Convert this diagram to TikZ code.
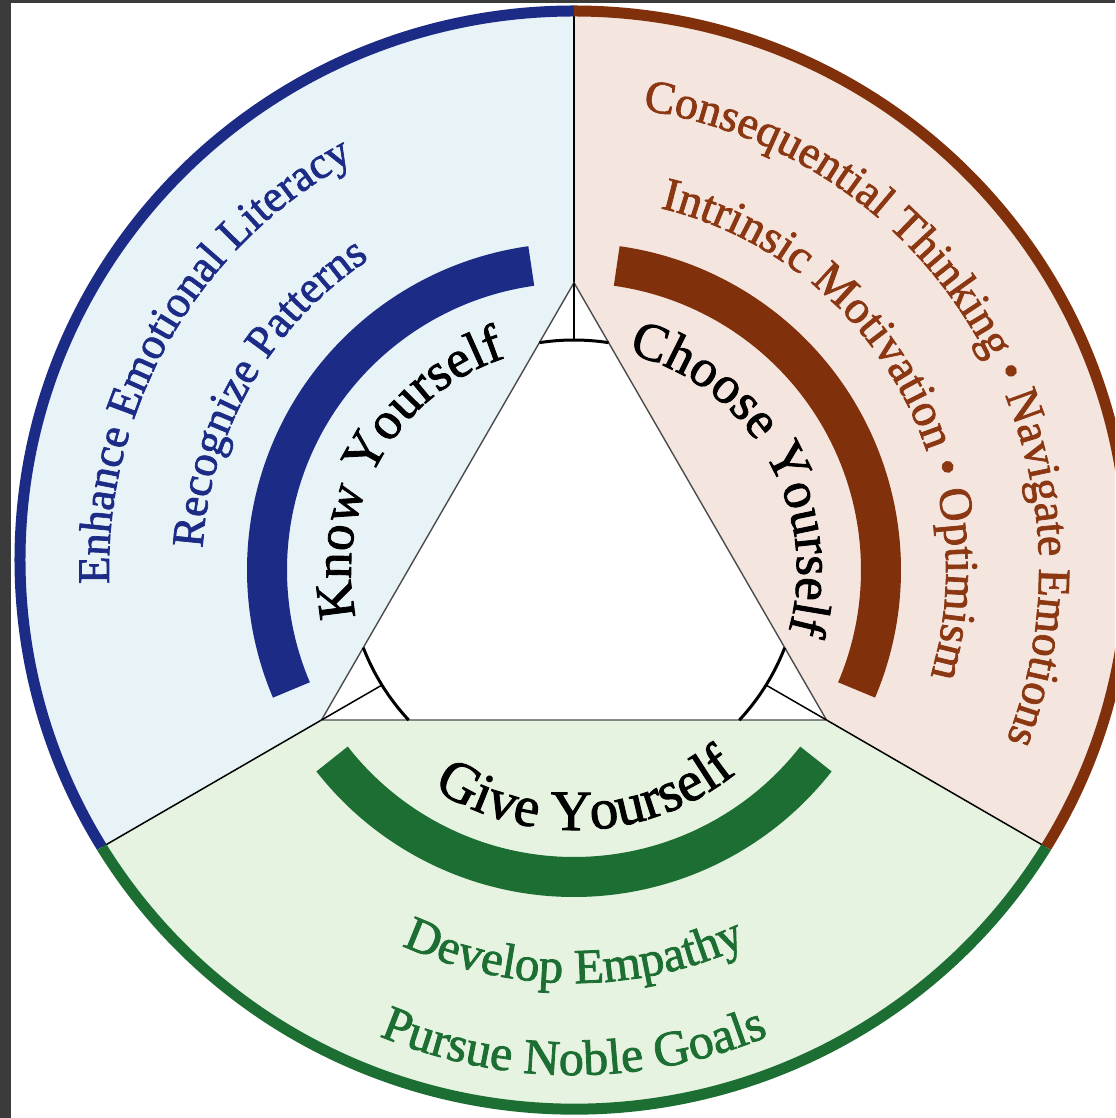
\documentclass[tikz,border=0pt]{standalone}
\usepackage{fontspec}
\setmainfont{Liberation Serif}[FakeBold=1.6]
\usetikzlibrary{decorations.text}
\definecolor{navy}{HTML}{1C2C86}
\definecolor{rust}{HTML}{80300A}
\definecolor{rusttext}{HTML}{8A3712}
\definecolor{forest}{HTML}{1C6E32}
\definecolor{bluefill}{HTML}{E8F3F8}
\definecolor{rustfill}{HTML}{F5E5DF}
\definecolor{greenfill}{HTML}{E5F3E0}
\definecolor{framegray}{HTML}{3B3B3B}
\newcommand\fsTitle{\fontsize{26.5}{30}\selectfont}
\newcommand\fsGive{\fontsize{28.5}{32}\selectfont}
\newcommand\fsBlue{\fontsize{22.5}{27}\selectfont}
\newcommand\fsRustA{\fontsize{23}{27}\selectfont}
\newcommand\fsRustB{\fontsize{23.5}{27}\selectfont}
\newcommand\fsGreenA{\fontsize{24.5}{28}\selectfont}
\newcommand\fsGreenB{\fontsize{25}{29}\selectfont}
\tikzset{
  band/.style={line width=20pt},
  rim/.style={line width=5.5pt},
  thinline/.style={line width=0.75pt, draw=black},
  triside/.style={line width=0.7pt, draw=black!70},
  cornerarc/.style={line width=1.5pt, draw=black},
  ctext/.style={decorate, decoration={text along path, text align=center, text color=#1}},
}
\begin{document}
\begin{tikzpicture}[x=0.5pt,y=0.5pt]
\useasboundingbox (-574,-548) rectangle (541,570);
\clip (-574,-548) rectangle (541,570);
\fill[white] (-574,-548) rectangle (541,570);

% key points
\coordinate (O) at (0,0);
\coordinate (Apex) at (0,287.3);
\coordinate (Lv) at (-252.5,-150);
\coordinate (Rv) at (252.5,-150);
\coordinate (Top) at (0,559);
\coordinate (Lb) at (-472.2,-277.2);
\coordinate (Rb) at (472.2,-277.2);
\coordinate (ApexIn) at (0,230);
\coordinate (LvIn) at (-192.1,-115.1);
\coordinate (RvIn) at (192.1,-115.1);

% sector fills
\fill[bluefill] (Apex) -- (Top) arc[start angle=90, end angle=211.53, x radius=554, y radius=549] -- (Lv) -- cycle;
\fill[rustfill] (Apex) -- (Top) arc[start angle=90, end angle=-31.53, x radius=554, y radius=549] -- (Rv) -- cycle;
\fill[greenfill] (Lv) -- (Lb) arc[start angle=211.53, end angle=328.47, x radius=554, y radius=549] -- (Rv) -- cycle;

% inner triangle
\fill[white] (Apex) -- (Lv) -- (Rv) -- cycle;

% thick bands
\draw[band, navy] (98:307) arc[start angle=98, end angle=203, radius=307];
\draw[band, rust] (-23:307) arc[start angle=-23, end angle=82, radius=307];
\draw[band, forest] (218:307) arc[start angle=218, end angle=322, radius=307];

% dividing lines
\draw[thinline] (Apex) -- (Top);
\draw[thinline] (Lv) -- (Lb);
\draw[thinline] (Rv) -- (Rb);
\draw[triside] (Apex) -- (Lv) -- (Rv) -- cycle;

% corner arcs and short radial lines
\draw[cornerarc] ([shift={(0,4)}]81.2:226) arc[start angle=81.2, end angle=98.8, radius=226];
\draw[cornerarc] ([shift={(0,4)}]201.2:226) arc[start angle=201.2, end angle=223.0, radius=226];
\draw[cornerarc] ([shift={(0,4)}]317.0:226) arc[start angle=317.0, end angle=338.8, radius=226];
\draw[thinline] (Apex) -- (ApexIn);
\draw[thinline] (Lv) -- (LvIn);
\draw[thinline] (Rv) -- (RvIn);

% outer rim
\draw[rim, navy] (Top) arc[start angle=90, end angle=211.53, x radius=554, y radius=549];
\draw[rim, rust] (Top) arc[start angle=90, end angle=-31.53, x radius=554, y radius=549];
\draw[rim, forest] (Lb) arc[start angle=211.53, end angle=328.47, x radius=554, y radius=549];

% frame strips
\fill[framegray] (-574,-548) rectangle (-563,570);
\fill[framegray] (-574,567) rectangle (541,570);

% texts: blue sector
\path[ctext=navy, decoration={text={|\fsBlue|Enhance Emotional Literacy}}]
  (230:465) arc[start angle=230, end angle=70, radius=465];
\path[ctext=navy, decoration={text={|\fsBlue|Recognize Patterns}}]
  (230:372) arc[start angle=230, end angle=70, radius=372];
\path[ctext=black, decoration={text={|\fsTitle|Know Yourself}}]
  (240:223) arc[start angle=240, end angle=60, radius=223];

% texts: rust sector
\path[ctext=rusttext, decoration={text={|\fsRustA|Consequential Thinking • Navigate Emotions}}]
  (115:465) arc[start angle=115, end angle=-55, radius=465];
\path[ctext=rusttext, decoration={text={|\fsRustB|Intrinsic Motivation • Optimism}}]
  (115:372) arc[start angle=115, end angle=-55, radius=372];
\path[ctext=black, decoration={text={|\fsTitle|Choose Yourself}}]
  (120:223) arc[start angle=120, end angle=-60, radius=223];

% texts: green sector
\path[ctext=black, decoration={text={|\fsGive|Give Yourself}}]
  (193:260) arc[start angle=193, end angle=353, radius=260];
\path[ctext=forest, decoration={text={|\fsGreenA|Develop Empathy}}]
  (190:413) arc[start angle=190, end angle=350, radius=413];
\path[ctext=forest, decoration={text={|\fsGreenB|Pursue Noble Goals}}]
  (190:505) arc[start angle=190, end angle=350, radius=505];
\end{tikzpicture}
\end{document}
